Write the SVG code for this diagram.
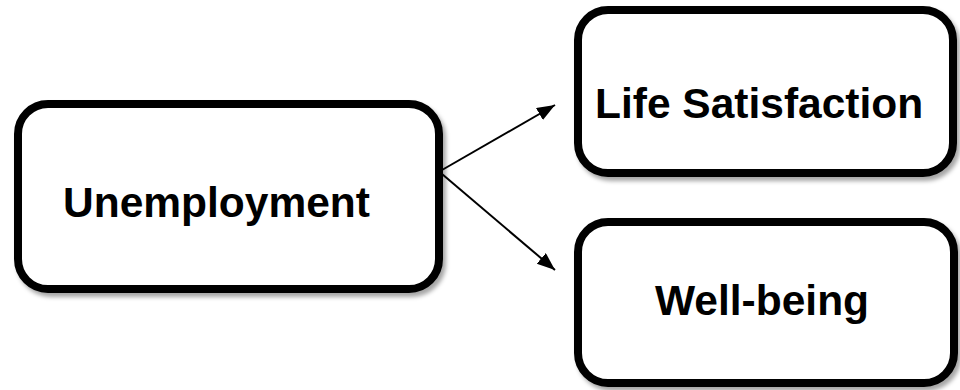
<svg xmlns="http://www.w3.org/2000/svg" width="960" height="390" viewBox="0 0 960 390">
  <style>
    .box { fill: #ffffff; stroke: #000000; stroke-width: 8; filter: url(#shadow); }
    .label { font-family: "Liberation Sans", Arial, sans-serif; font-weight: bold; font-size: 42.5px; fill: #000000; }
    .conn { stroke: #000000; stroke-width: 2; fill: none; marker-end: url(#arrow); }
  </style>
  <defs>
    <filter id="shadow" x="-10%" y="-10%" width="120%" height="130%">
      <feDropShadow dx="3" dy="4" stdDeviation="2" flood-color="#000000" flood-opacity="0.35"/>
    </filter>
    <marker id="arrow" markerUnits="userSpaceOnUse" markerWidth="20" markerHeight="16" refX="18" refY="7" orient="auto">
      <path d="M0,0 L18,7 L0,14 Z" fill="#000000"/>
    </marker>
  </defs>
  <rect width="960" height="390" fill="#ffffff"/>
  <g id="unemployment">
    <rect class="box" x="18" y="104" width="421" height="185" rx="30" ry="30"/>
    <text class="label" x="63" y="217">Unemployment</text>
  </g>
  <g id="life-satisfaction">
    <rect class="box" x="578" y="10" width="375" height="163" rx="30" ry="30"/>
    <text class="label" x="595" y="118">Life Satisfaction</text>
  </g>
  <g id="well-being">
    <rect class="box" x="578" y="222" width="376" height="161" rx="30" ry="30"/>
    <text class="label" x="655" y="315">Well-being</text>
  </g>
  <g id="connectors">
    <line class="conn" x1="442" y1="170" x2="555" y2="105"/>
    <line class="conn" x1="442" y1="174" x2="555" y2="270"/>
  </g>
</svg>
